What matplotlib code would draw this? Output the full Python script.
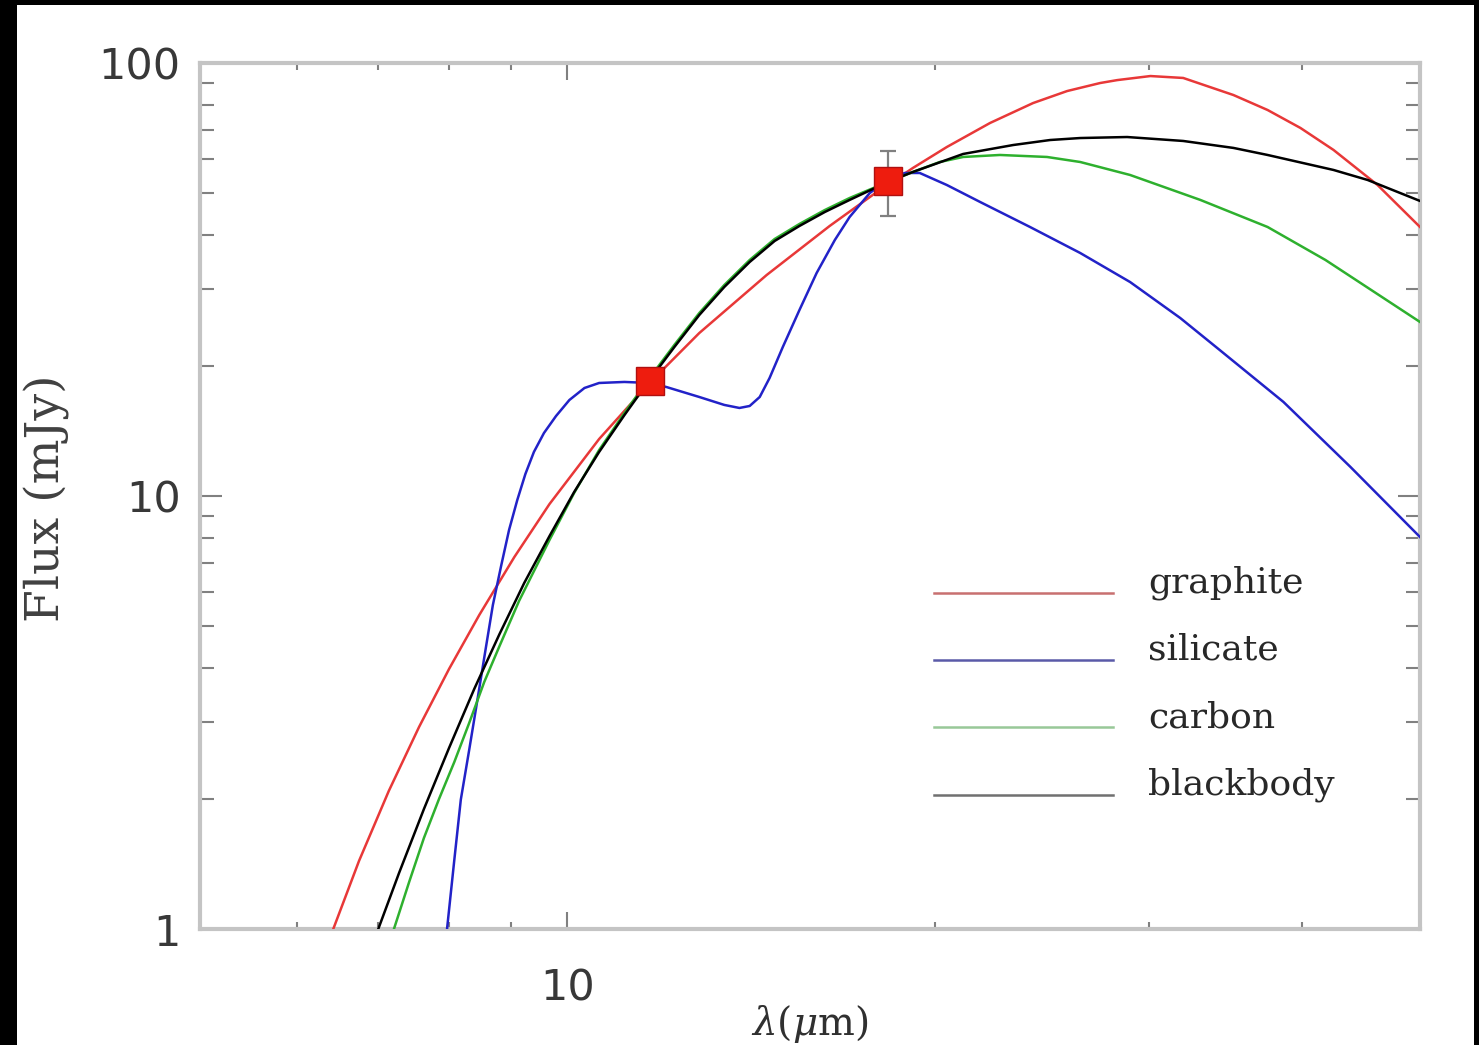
import numpy as np
import matplotlib
matplotlib.use('Agg')
import matplotlib.pyplot as plt
from matplotlib.patches import Rectangle
from matplotlib.ticker import FixedLocator, LogLocator, NullFormatter, FixedFormatter

# model curves, wavelength in micron / flux in mJy
wl_gra = [6.43, 6.75, 7.14, 7.56, 8.00, 8.47, 9.05, 9.67, 10.62, 11.68, 12.83, 14.57, 16.41,
          17.80, 18.31, 19.20, 20.47, 22.21, 24.09, 25.69, 27.34, 28.23, 30.06, 31.98, 35.16,
          37.50, 39.90, 42.47, 46.15, 50.0]
fl_gra = [1.00, 1.436, 2.083, 2.928, 3.985, 5.311, 7.23, 9.58, 13.54, 18.24, 23.79, 32.39, 42.04,
          49.58, 52.27, 57.22, 63.97, 72.69, 80.82, 86.15, 89.9, 91.3, 93.3, 92.35, 84.34,
          77.89, 70.79, 62.98, 52.27, 41.81]

wl_sil = [7.97, 8.08, 8.18, 8.31, 8.44, 8.57, 8.69, 8.83, 8.96, 9.10, 9.24, 9.39, 9.57, 9.79,
          10.04, 10.33, 10.62, 11.14, 11.68, 12.06, 12.83, 13.45, 13.84, 14.11, 14.38, 14.65,
          15.02, 15.50, 16.01, 16.57, 17.04, 17.70, 18.31, 18.91, 19.45, 20.47, 21.80, 23.95,
          26.33, 28.93, 31.80, 34.10, 38.64, 43.85, 50.0]
fl_sil = [1.00, 1.443, 1.99, 2.59, 3.38, 4.41, 5.60, 6.93, 8.35, 9.79, 11.24, 12.64, 13.98, 15.30,
          16.66, 17.76, 18.24, 18.34, 18.24, 17.85, 16.93, 16.23, 15.97, 16.14, 16.93, 18.73,
          22.08, 26.89, 32.73, 39.01, 44.10, 50.09, 53.69, 55.72, 55.72, 52.27, 47.75, 41.81,
          36.41, 31.20, 25.77, 21.97, 16.49, 11.67, 8.04]

wl_car = [7.21, 7.42, 7.63, 7.85, 8.08, 8.31, 8.55, 8.80, 9.13, 9.67, 10.13, 10.62, 11.14,
          11.68, 12.24, 12.83, 13.45, 14.11, 14.79, 15.50, 16.26, 17.04, 18.31, 19.20, 20.20,
          21.11, 22.63, 24.73, 26.33, 28.93, 33.03, 37.50, 41.83, 50.0]
fl_car = [1.00, 1.284, 1.623, 1.996, 2.430, 2.990, 3.720, 4.504, 5.721, 7.914, 10.16, 12.77,
          15.55, 18.73, 22.33, 26.46, 30.71, 35.08, 39.22, 42.49, 45.76, 48.78, 53.12, 56.02,
          59.07, 60.67, 61.32, 60.67, 59.07, 55.13, 48.28, 41.81, 35.08, 25.23]

wl_bb = [7.00, 7.28, 7.63, 8.00, 8.39, 8.80, 9.22, 9.67, 10.13, 10.62, 11.14, 11.68, 12.24,
         12.83, 13.45, 14.11, 14.79, 15.50, 16.26, 17.04, 18.31, 19.20, 21.11, 23.20, 24.88,
         26.33, 28.77, 31.98, 35.16, 37.50, 42.47, 45.29, 50.0]
fl_bb = [1.00, 1.347, 1.893, 2.618, 3.584, 4.800, 6.297, 8.08, 10.21, 12.64, 15.38, 18.53,
         22.08, 26.18, 30.39, 34.71, 38.81, 42.04, 45.28, 48.28, 53.12, 56.02, 61.65, 64.65,
         66.40, 67.1, 67.46, 66.06, 63.66, 61.32, 56.62, 53.69, 48.02]

# photometry
obs_wl = [11.68, 18.31]
obs_fl = [18.43, 53.40]
obs_lo = [0.0, 9.06]
obs_hi = [0.0, 9.25]

names = ['graphite', 'silicate', 'carbon', 'blackbody']
colors = ['#e83838', '#2222c8', '#2eb02e', '#000000']
leg_colors = ['#c87070', '#5a5aa8', '#98c898', '#707070']

plt.rcParams['mathtext.fontset'] = 'dejavuserif'

fig = plt.figure(figsize=(14.79, 10.45), dpi=100, facecolor='black')
# white page inside the black frame
fig.patches.append(Rectangle((17 / 1479, 0), (1474 - 17) / 1479, 1040 / 1045,
                             transform=fig.transFigure, facecolor='white', edgecolor='none',
                             zorder=-10))
ax = fig.add_axes([200 / 1479, 116 / 1045, 1220 / 1479, 866 / 1045])
ax.set_facecolor('white')

curves = [(wl_gra, fl_gra), (wl_sil, fl_sil), (wl_car, fl_car), (wl_bb, fl_bb)]
for (w, f), c in zip(curves, colors):
    ax.plot(w, f, color=c, lw=1.8, zorder=3, solid_joinstyle='round')

ax.errorbar(obs_wl, obs_fl, yerr=[obs_lo, obs_hi], fmt='none', ecolor='#808080',
            elinewidth=1.6, capsize=6, capthick=1.6, zorder=4)
ax.plot(obs_wl, obs_fl, 's', ms=20, mfc='#ee1c0e', mec='#b01010', mew=1, zorder=5)

ax.set_xscale('log')
ax.set_yscale('log')
ax.set_xlim(5, 50)
ax.set_ylim(1, 100)

ax.xaxis.set_major_locator(FixedLocator([10]))
ax.xaxis.set_major_formatter(FixedFormatter(['10']))
ax.xaxis.set_minor_locator(LogLocator(subs=np.arange(2, 10)))
ax.xaxis.set_minor_formatter(NullFormatter())
ax.yaxis.set_major_locator(FixedLocator([1, 10, 100]))
ax.yaxis.set_major_formatter(FixedFormatter(['1', '10', '100']))
ax.yaxis.set_minor_locator(LogLocator(subs=np.arange(2, 10)))
ax.yaxis.set_minor_formatter(NullFormatter())

for s in ax.spines.values():
    s.set_color('#c4c4c4')
    s.set_linewidth(3)
ax.tick_params(which='both', direction='in', top=True, right=True, color='#808080', width=1.5,
               labelsize=31, labelcolor='#383838')
ax.tick_params(axis='x', which='major', length=12, pad=28)
ax.tick_params(axis='x', which='minor', length=5)
ax.tick_params(axis='y', which='major', length=16, pad=14)
ax.tick_params(axis='y', which='minor', length=10)

# legend drawn by hand
leg_y = [0.388, 0.311, 0.233, 0.155]
for n, c, y in zip(names, leg_colors, leg_y):
    ax.plot([0.602, 0.748], [y, y], transform=ax.transAxes, color=c, lw=1.8)
    ax.text(0.777, y, n, transform=ax.transAxes, va='baseline', ha='left',
            family='DejaVu Serif', fontsize=26, color='#282828')

fig.text(47 / 1479, 1 - 498 / 1045, 'Flux (mJy)', rotation=90, ha='center', va='center',
         family='DejaVu Serif', fontsize=34, color='#404040')
fig.text(810 / 1479, 1 - 1003 / 1045, r'$\lambda(\mu$m)', ha='center', va='top',
         family='DejaVu Serif', fontsize=28, color='#303030')

fig.savefig('out.png', dpi=100, facecolor='black')
